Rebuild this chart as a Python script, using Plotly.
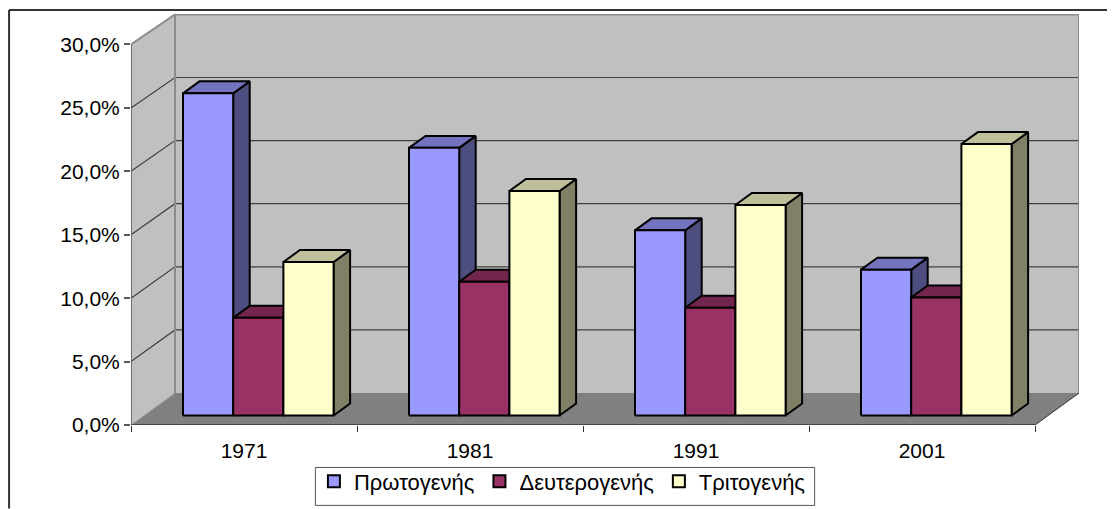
import plotly.graph_objects as go

years = ["1971", "1981", "1991", "2001"]
series_names = ["Πρωτογενής", "Δευτερογενής", "Τριτογενής"]
primary = [25.4, 21.1, 14.6, 11.5]
secondary = [7.7, 10.55, 8.5, 9.3]
tertiary = [12.1, 17.7, 16.6, 21.4]
y_ticks = [0, 5, 10, 15, 20, 25, 30]
y_labels = ["0,0%", "5,0%", "10,0%", "15,0%", "20,0%", "25,0%", "30,0%"]

front_colors = ["#9999FF", "#993366", "#FFFFCC"]
top_colors = ["#7373BF", "#73264D", "#BFBF99"]
side_colors = ["#4D4D80", "#4D1A33", "#808066"]

# oblique projection, in axis units
PX_X = 226.0
PX_Y = 12.7
DX = 44 / PX_X
DY = 32 / PX_Y
BACK_K = 0.995
BAR_W = 50.2 / PX_X
GAP = 40 / PX_X
OFF_X = 12 / PX_X
OFF_Y = 9.5 / PX_Y
BAR_DX = 16.5 / PX_X
BAR_DY = 12 / PX_Y
N = len(years)
TOP = max(y_ticks)

fig = go.Figure()


def poly(xs, ys, fill, line=None, width=1):
    fig.add_trace(go.Scatter(
        x=xs + xs[:1], y=ys + ys[:1], mode="lines", fill="toself", fillcolor=fill,
        line=dict(color=line or fill, width=width if line else 0),
        showlegend=False, hoverinfo="skip", cliponaxis=False))


def seg(xs, ys, color, width):
    fig.add_trace(go.Scatter(
        x=xs, y=ys, mode="lines", line=dict(color=color, width=width),
        showlegend=False, hoverinfo="skip", cliponaxis=False))


# walls and floor
back_top = DY + TOP * BACK_K
poly([DX, N + DX, N + DX, DX], [DY, DY, back_top, back_top], "#C0C0C0")
poly([0, DX, DX, 0], [0, DY, back_top, TOP], "#C0C0C0")
poly([0, N, N + DX, DX], [0, 0, DY, DY], "#808080")

# gridlines
for v in y_ticks[1:-1]:
    seg([0, DX, N + DX], [v, DY + v * BACK_K, DY + v * BACK_K], "#404040", 1.2)
seg([0, DX, N + DX, N + DX], [TOP, back_top, back_top, DY], "#8C8C8C", 2)
seg([DX, DX], [DY, back_top], "#8C8C8C", 2)
seg([0, DX], [0, DY], "#A0A0A0", 1)
seg([N, N + DX], [0, DY], "#303030", 1)
seg([0, 0], [0, TOP], "#5A5A5A", 1.6)
seg([0, N], [0, 0], "#303030", 1.6)

# bars, painted left to right
for c in range(N):
    for s, vals in enumerate([primary, secondary, tertiary]):
        x0 = c + OFF_X + GAP + s * BAR_W
        x1 = x0 + BAR_W
        y0 = OFF_Y
        y1 = OFF_Y + vals[c]
        poly([x1, x1 + BAR_DX, x1 + BAR_DX, x1], [y0, y0 + BAR_DY, y1 + BAR_DY, y1],
             side_colors[s], "#000000", 2)
        poly([x0, x1, x1 + BAR_DX, x0 + BAR_DX], [y1, y1, y1 + BAR_DY, y1 + BAR_DY],
             top_colors[s], "#000000", 2)
        poly([x0, x1, x1, x0], [y0, y0, y1, y1], front_colors[s], "#000000", 2)

# legend entries
for s, name in enumerate(series_names):
    fig.add_trace(go.Scatter(
        x=[None], y=[None], mode="markers", name=name,
        marker=dict(symbol="square", size=12, color=front_colors[s],
                    line=dict(color="#000000", width=2))))

PAGE = 8  # the page's own margin round the figure
W, H = 1115 - PAGE, 509 - PAGE
L, R, T, B = 131 - PAGE, 1079.5 - PAGE, 14 - PAGE, 425.5 - PAGE
font = dict(family="Liberation Sans, Arial, sans-serif", size=21, color="#000000")
legend_font = dict(family="Liberation Sans, Arial, sans-serif", size=22, color="#000000")


def px(v):
    return (v - PAGE - L) / (R - L)


def py(v):
    return (B - (v - PAGE)) / (B - T)


fig.update_layout(
    width=W, height=H, autosize=False,
    margin=dict(l=L, r=W - R, t=T, b=H - B, autoexpand=False),
    paper_bgcolor="#FFFFFF", plot_bgcolor="#FFFFFF",
    font=font,
    xaxis=dict(
        range=[0, N + DX], showgrid=False, zeroline=False, showline=False,
        tickmode="array", tickvals=[i + 0.5 for i in range(N)], ticktext=years,
        ticks="", ticklabelstandoff=11, tickfont=font, fixedrange=True,
        minor=dict(tickmode="array", tickvals=list(range(N + 1)), ticks="outside",
                   ticklen=6, tickwidth=1, tickcolor="#303030", showgrid=False)),
    yaxis=dict(
        range=[0, (B - T) / PX_Y], showgrid=False, zeroline=False, showline=False,
        tickmode="array", tickvals=y_ticks, ticktext=y_labels,
        ticks="outside", ticklen=6, tickwidth=1.5, tickcolor="#5A5A5A",
        tickfont=font, fixedrange=True),
    legend=dict(
        orientation="h", xref="paper", yref="paper",
        x=px(314), y=py(461), xanchor="left", yanchor="top",
        bgcolor="rgba(0,0,0,0)", borderwidth=0,
        font=legend_font, itemclick=False, itemdoubleclick=False),
    shapes=[
        dict(type="line", xref="paper", yref="paper", x0=px(9), x1=px(1115), y0=py(10), y1=py(10),
             line=dict(color="#333333", width=2)),
        dict(type="line", xref="paper", yref="paper", x0=px(9), x1=px(9), y0=py(10), y1=py(509),
             line=dict(color="#333333", width=2)),
        dict(type="rect", xref="paper", yref="paper", x0=px(315.5), x1=px(815), y0=py(468), y1=py(506),
             line=dict(color="#555555", width=1), fillcolor="#FFFFFF"),
    ],
)

fig.write_html("out.html", config=dict(displayModeBar=False))
